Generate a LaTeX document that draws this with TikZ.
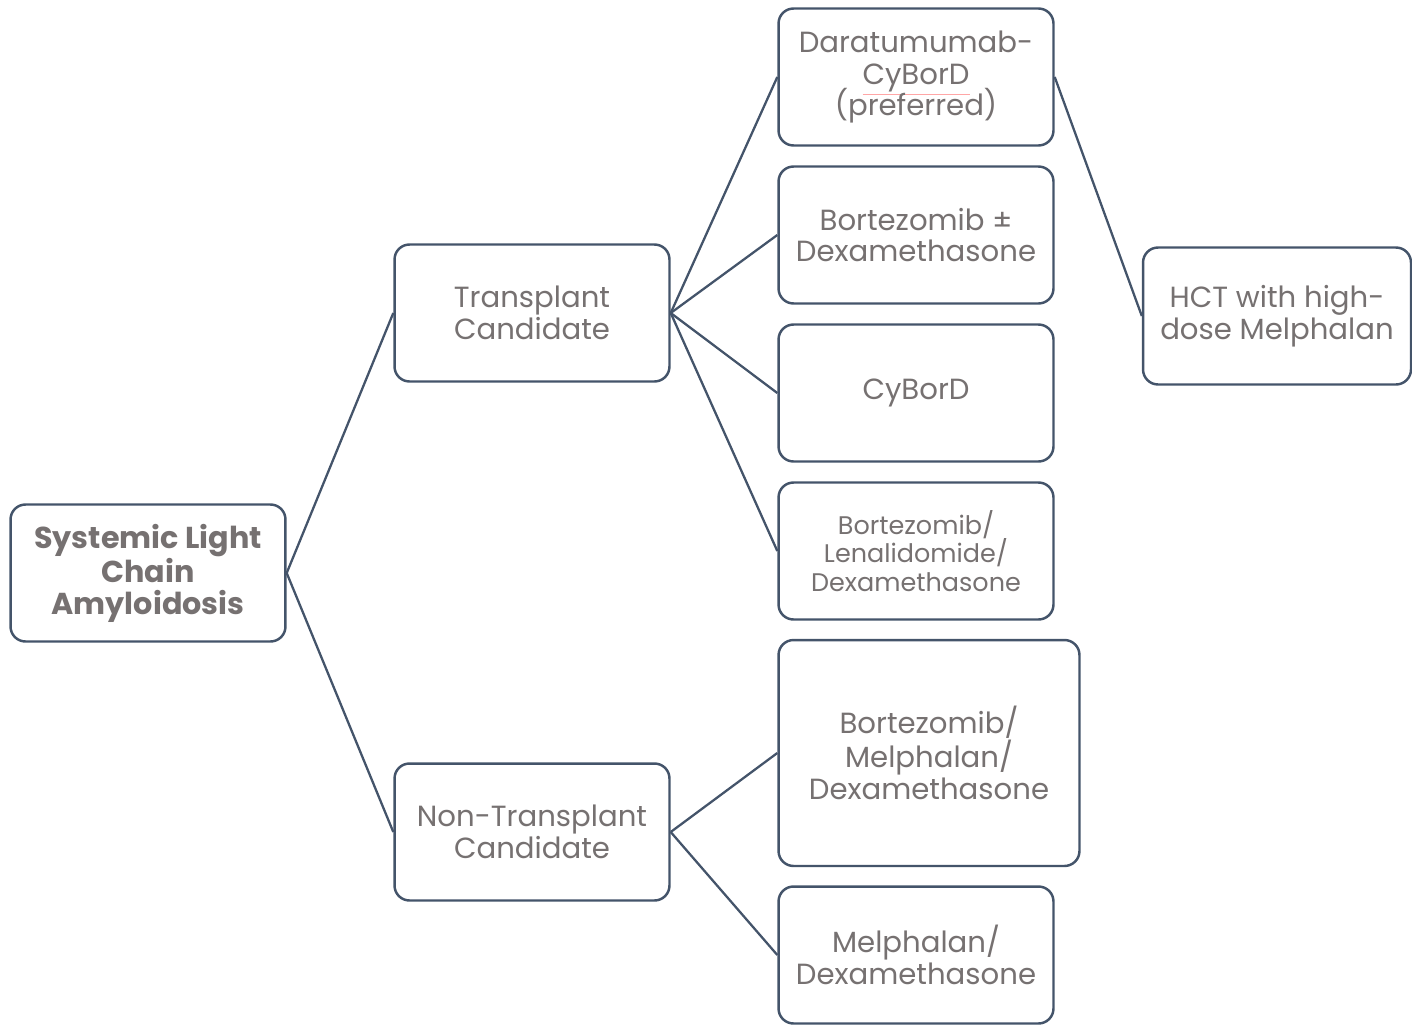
\documentclass[tikz,border=0pt]{standalone}
\usepackage{fontspec}
\setmainfont{Poppins}
\definecolor{edge}{HTML}{44546A}
\definecolor{txt}{HTML}{767171}
\tikzset{
  box/.style={draw=edge,line width=1.4pt,rounded corners=0.3cm,fill=white,
    minimum width=5.5cm,minimum height=2.74cm,align=center,text=txt,
    font=\fontsize{16.6}{18.1}\selectfont,inner sep=2pt},
  link/.style={draw=edge,line width=1.3pt}
}
\begin{document}
\begin{tikzpicture}[x=0.02cm,y=-0.02cm]
        \useasboundingbox(0,0)rectangle(1412,1024);
        \node[box,font=\fontsize{17.2}{18.1}\selectfont\bfseries](root)at(148,573){Systemic Light\\Chain\\Amyloidosis};
        \node[box](tc)at(532,313){Transplant\\Candidate};
        \node[box](ntc)at(532,832){Non-Transplant\\Candidate};
        \node[box](dara)at(916,77){Daratumumab-\\\smash{\color{red!35}\underline{\color{txt}CyBorD}}\\(preferred)};
        \node[box](bd)at(916,235){Bortezomib ±\\Dexamethasone};
        \node[box](cybord)at(916,393){CyBorD};
        \node[box,font=\fontsize{14.5}{16.4}\selectfont](bld)at(916,551){Bortezomib/\\Lenalidomide/\\Dexamethasone};
        \node[box,minimum width=6.02cm,minimum height=4.52cm](bmd)at(929,753){Bortezomib/\\Melphalan/\\Dexamethasone};
        \node[box](md)at(916,955){Melphalan/\\Dexamethasone};
        \node[box,minimum width=5.36cm](hct)at(1277,316){HCT with high-\\dose Melphalan};
        %\node[box](x)at(0,0){};
        \draw[link](root.east)--(tc.west);
        \draw[link](root.east)--(ntc.west);
        \foreach \n in {dara,bd,cybord,bld} \draw[link](tc.east)--(\n.west);
        \foreach \n in {bmd,md} \draw[link](ntc.east)--(\n.west);
        \draw[link](dara.east)--(hct.west);
    \end{tikzpicture}
\end{document}
